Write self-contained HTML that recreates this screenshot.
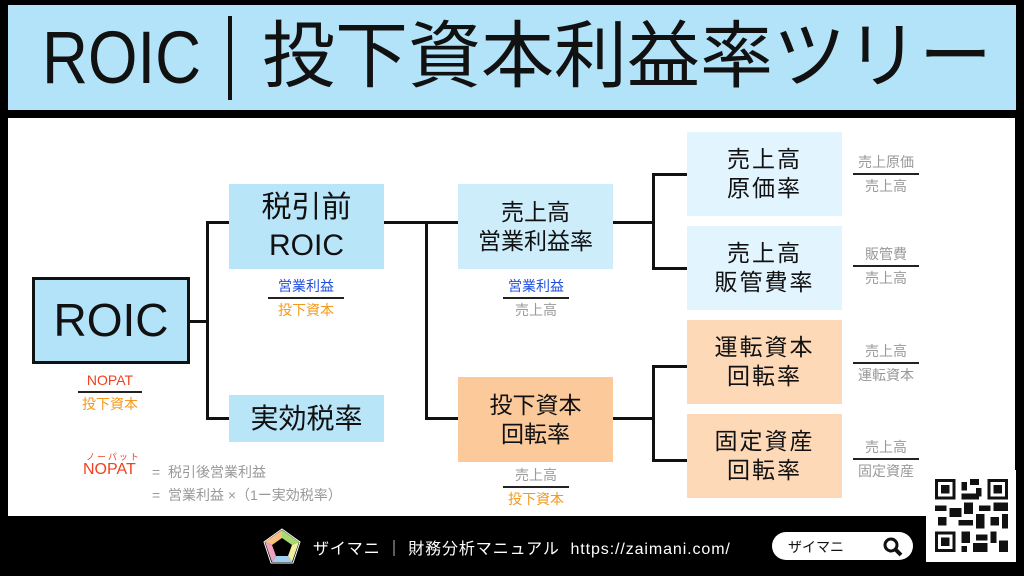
<!DOCTYPE html>
<html><head><meta charset="utf-8"><style>
*{margin:0;padding:0;box-sizing:border-box}
body{width:1024px;height:576px;background:#000;position:relative;overflow:hidden;font-family:"Liberation Sans","Noto Sans CJK JP",sans-serif}
.a{position:absolute}
.box{position:absolute;display:flex;align-items:center;justify-content:center;text-align:center;color:#111;line-height:1.25}
.ln{position:absolute;background:#111}
.fr{position:absolute;text-align:center;font-size:14px;line-height:18px}
.fr .bar{height:2px;background:#222;margin:2px auto}
</style></head><body>
<div class="a" style="left:8px;top:5px;width:1008px;height:105px;background:#b3e3f9"></div>
<div class="a" style="left:42px;top:14px;font-size:74px;line-height:88px;color:#111;white-space:nowrap;transform:scaleX(0.86);transform-origin:left">ROIC</div>
<div class="a" style="left:228px;top:16px;width:4px;height:84px;background:#111"></div>
<div class="a" style="left:262px;top:12px;font-size:73px;line-height:90px;color:#111;white-space:nowrap">投下資本利益率ツリー</div>
<div class="a" style="left:8px;top:118px;width:1007px;height:398px;background:#fff"></div>

<div class="box" style="left:32px;top:277px;width:158px;height:87px;background:#b3e3f9;border:3px solid #111;font-size:46px">ROIC</div>
<div class="box" style="left:229px;top:184px;width:155px;height:85px;background:#b9e5f9;font-size:30px">税引前<br>ROIC</div>
<div class="box" style="left:229px;top:395px;width:155px;height:47px;background:#b9e5f9;font-size:28px">実効税率</div>
<div class="box" style="left:458px;top:184px;width:155px;height:85px;background:#cdedfb;font-size:23px">売上高<br>営業利益率</div>
<div class="box" style="left:458px;top:377px;width:155px;height:85px;background:#fcc99a;font-size:23px">投下資本<br>回転率</div>
<div class="box" style="left:687px;top:132px;width:155px;height:84px;background:#e2f4fd;font-size:23px;letter-spacing:2px">売上高<br>原価率</div>
<div class="box" style="left:687px;top:226px;width:155px;height:84px;background:#e2f4fd;font-size:23px;letter-spacing:2px">売上高<br>販管費率</div>
<div class="box" style="left:687px;top:320px;width:155px;height:84px;background:#fdd9b7;font-size:23px;letter-spacing:2px">運転資本<br>回転率</div>
<div class="box" style="left:687px;top:414px;width:155px;height:84px;background:#fdd9b7;font-size:23px;letter-spacing:2px">固定資産<br>回転率</div>

<div class="ln" style="left:190px;top:320px;width:18px;height:3px"></div>
<div class="ln" style="left:206px;top:221px;width:3px;height:199px"></div>
<div class="ln" style="left:206px;top:221px;width:23px;height:3px"></div>
<div class="ln" style="left:206px;top:417px;width:23px;height:3px"></div>
<div class="ln" style="left:384px;top:221px;width:74px;height:3px"></div>
<div class="ln" style="left:425px;top:221px;width:3px;height:199px"></div>
<div class="ln" style="left:425px;top:417px;width:33px;height:3px"></div>
<div class="ln" style="left:613px;top:221px;width:40px;height:3px"></div>
<div class="ln" style="left:652px;top:173px;width:3px;height:97px"></div>
<div class="ln" style="left:652px;top:173px;width:35px;height:3px"></div>
<div class="ln" style="left:652px;top:267px;width:35px;height:3px"></div>
<div class="ln" style="left:613px;top:417px;width:40px;height:3px"></div>
<div class="ln" style="left:652px;top:365px;width:3px;height:97px"></div>
<div class="ln" style="left:652px;top:365px;width:35px;height:3px"></div>
<div class="ln" style="left:652px;top:459px;width:35px;height:3px"></div>

<div class="fr" style="left:70px;top:371px;width:80px"><div style="color:#f04020">NOPAT</div><div class="bar" style="width:64px"></div><div style="color:#f39a1e">投下資本</div></div>
<div class="fr" style="left:266px;top:277px;width:80px"><div style="color:#2050e0">営業利益</div><div class="bar" style="width:76px"></div><div style="color:#f39a1e">投下資本</div></div>
<div class="fr" style="left:496px;top:277px;width:80px"><div style="color:#2050e0">営業利益</div><div class="bar" style="width:66px"></div><div style="color:#999">売上高</div></div>
<div class="fr" style="left:496px;top:466px;width:80px"><div style="color:#999">売上高</div><div class="bar" style="width:66px"></div><div style="color:#f39a1e">投下資本</div></div>
<div class="fr" style="left:846px;top:153px;width:80px"><div style="color:#999">売上原価</div><div class="bar" style="width:66px"></div><div style="color:#999">売上高</div></div>
<div class="fr" style="left:846px;top:245px;width:80px"><div style="color:#999">販管費</div><div class="bar" style="width:66px"></div><div style="color:#999">売上高</div></div>
<div class="fr" style="left:846px;top:342px;width:80px"><div style="color:#999">売上高</div><div class="bar" style="width:66px"></div><div style="color:#999">運転資本</div></div>
<div class="fr" style="left:846px;top:438px;width:80px"><div style="color:#999">売上高</div><div class="bar" style="width:66px"></div><div style="color:#999">固定資産</div></div>

<div class="a" style="left:86px;top:450px;font-size:9px;color:#f04020;letter-spacing:2px">ノーパット</div>
<div class="a" style="left:83px;top:461px;font-size:16px;color:#f04020">NOPAT</div>
<div class="a" style="left:152px;top:462px;font-size:14px;color:#999;white-space:nowrap">=&nbsp; 税引後営業利益</div>
<div class="a" style="left:152px;top:485px;font-size:14px;color:#999;white-space:nowrap">=&nbsp; 営業利益 ×（1ー実効税率）</div>

<svg class="a" style="left:262px;top:527px" width="40" height="38" viewBox="0 0 40 38">
<polygon points="20,2 38,15 31,36 9,36 2,15" fill="none" stroke="#fff" stroke-width="1"/>
<polygon points="20,3 37,15 30,18 20,11" fill="#a8d870"/><polygon points="37,15 30,35 26,29 30,18" fill="#f0f0a0"/>
<polygon points="30,35 10,35 14,29 26,29" fill="#a0d0f0"/><polygon points="10,35 3,15 10,18 14,29" fill="#f0a0c0"/>
<polygon points="3,15 20,3 20,11 10,18" fill="#f8c080"/>
</svg>
<div class="a" style="left:313px;top:535px;font-size:16px;color:#fff;white-space:nowrap;letter-spacing:0.9px">ザイマニ ｜ 財務分析マニュアル&nbsp; https://zaimani.com/</div>
<div class="a" style="left:772px;top:532px;width:141px;height:28px;background:#fff;border-radius:14px"></div>
<div class="a" style="left:788px;top:537px;font-size:14px;color:#111">ザイマニ</div>
<svg class="a" style="left:882px;top:536px" width="22" height="22"><circle cx="9" cy="9" r="6" fill="none" stroke="#111" stroke-width="3"/><line x1="13" y1="13" x2="19" y2="19" stroke="#111" stroke-width="4"/></svg>
<div class="a" style="left:926px;top:470px;width:90px;height:92px;background:#fff"></div>
<svg class="a" style="left:935px;top:479px" width="73" height="73" viewBox="0 0 25 25" shape-rendering="crispEdges">
<rect width="25" height="25" fill="#fff"/>
<g fill="#111">
<rect x="0" y="0" width="7" height="7"/><rect x="18" y="0" width="7" height="7"/><rect x="0" y="18" width="7" height="7"/>
</g>
<g fill="#fff"><rect x="1" y="1" width="5" height="5"/><rect x="19" y="1" width="5" height="5"/><rect x="1" y="19" width="5" height="5"/></g>
<g fill="#111"><rect x="2" y="2" width="3" height="3"/><rect x="20" y="2" width="3" height="3"/><rect x="2" y="20" width="3" height="3"/>
<rect x="9" y="1" width="2" height="3"/><rect x="12" y="0" width="3" height="2"/><rect x="9" y="5" width="6" height="2"/><rect x="14" y="3" width="2" height="3"/>
<rect x="0" y="9" width="4" height="2"/><rect x="5" y="10" width="4" height="3"/><rect x="10" y="8" width="3" height="4"/><rect x="15" y="9" width="4" height="2"/><rect x="20" y="8" width="5" height="3"/>
<rect x="1" y="13" width="3" height="3"/><rect x="8" y="14" width="5" height="2"/><rect x="14" y="12" width="3" height="5"/><rect x="19" y="13" width="3" height="3"/><rect x="23" y="12" width="2" height="5"/>
<rect x="9" y="18" width="3" height="4"/><rect x="14" y="19" width="4" height="2"/><rect x="19" y="18" width="2" height="4"/><rect x="22" y="21" width="3" height="4"/><rect x="13" y="22" width="5" height="3"/><rect x="9" y="23" width="2" height="2"/>
</g></svg>
</body></html>
